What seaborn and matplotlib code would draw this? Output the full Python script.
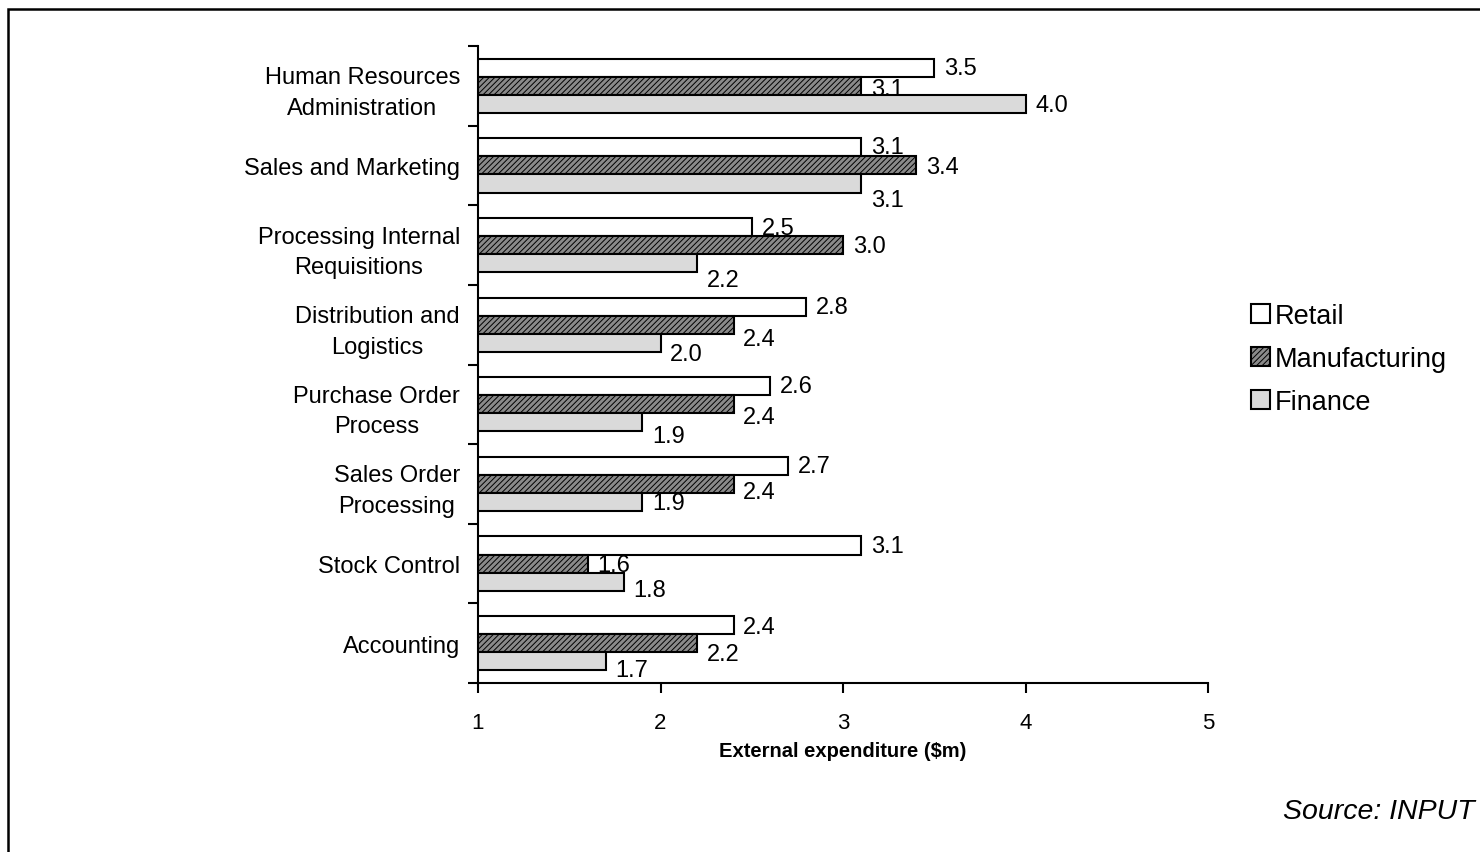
import pandas as pd
import matplotlib.pyplot as plt
import seaborn as sns
from matplotlib.patches import Patch, Rectangle

# chart data
categories = ['Human Resources\nAdministration', 'Sales and Marketing',
              'Processing Internal\nRequisitions', 'Distribution and\nLogistics',
              'Purchase Order\nProcess', 'Sales Order\nProcessing',
              'Stock Control', 'Accounting']
sectors = ['Retail', 'Manufacturing', 'Finance']
retail = [3.5, 3.1, 2.5, 2.8, 2.6, 2.7, 3.1, 2.4]
manufacturing = [3.1, 3.4, 3.0, 2.4, 2.4, 2.4, 1.6, 2.2]
finance = [4.0, 3.1, 2.2, 2.0, 1.9, 1.9, 1.8, 1.7]
x_ticks = [1, 2, 3, 4, 5]

# label drop below bar centre (points), mimics the original placement
label_drop = {
    'Retail': [0, 0, 1, 0, 0, 0, 0, 1],
    'Manufacturing': [2, 1, 1, 10, 9, 6, 1, 8],
    'Finance': [1, 12, 12, 8, 10, 1, 6, 6],
}

df = pd.DataFrame({
    'category': categories * 3,
    'sector': [s for s in sectors for _ in categories],
    'value': retail + manufacturing + finance,
})

plt.rcParams['font.family'] = ['Liberation Sans', 'DejaVu Sans']
plt.rcParams['hatch.linewidth'] = 0.7

styles = {
    'Retail': dict(facecolor='white', hatch=None),
    'Manufacturing': dict(facecolor='#8a8a8a', hatch='//////'),
    'Finance': dict(facecolor='#dadada', hatch=None),
}

fig = plt.figure(figsize=(14.8, 8.53), dpi=100)
ax = fig.add_axes([478 / 1480, 1 - 684 / 853, 730 / 1480, 637 / 853])

sns.barplot(data=df, x='value', y='category', hue='sector', orient='h',
            order=categories, hue_order=sectors, width=0.68, ax=ax,
            legend=False, saturation=1)

for i, (sector, cont) in enumerate(zip(sectors, ax.containers)):
    z = 2 + i
    for j, bar in enumerate(cont):
        bar.set_facecolor(styles[sector]['facecolor'])
        bar.set_edgecolor('black')
        bar.set_linewidth(1.5)
        if styles[sector]['hatch']:
            bar.set_hatch(styles[sector]['hatch'])
        bar.set_zorder(z)
        yc = bar.get_y() + bar.get_height() / 2
        val = bar.get_width()
        ax.annotate(f'{val:.1f}', xy=(val, yc), xytext=(7, -label_drop[sector][j]),
                    textcoords='offset points', va='center', ha='left',
                    fontsize=17, zorder=z + 0.5, annotation_clip=False)

ax.set_xlim(1, 5)
ax.set_ylim(len(categories) - 0.5, -0.5)
ax.set_xticks(x_ticks)
ax.set_xticklabels([str(t) for t in x_ticks], fontsize=16)
ax.set_yticks(range(len(categories)))
ax.set_yticklabels(categories, fontsize=17, multialignment='center', linespacing=1.5)
ax.set_yticks([k - 0.5 for k in range(len(categories) + 1)], minor=True)
ax.tick_params(axis='y', which='major', length=0, pad=13)
ax.tick_params(axis='y', which='minor', length=7, width=1.5, direction='out')
ax.tick_params(axis='x', which='major', length=7, width=1.5, direction='out', pad=14)
ax.set_xlabel('External expenditure ($m)', fontsize=14.5, fontweight='bold', labelpad=6)
ax.set_ylabel('')

sns.despine(ax=ax, top=True, right=True)
for side in ['left', 'bottom']:
    ax.spines[side].set_linewidth(1.5)
    ax.spines[side].set_zorder(10)
ax.set_facecolor('none')

handles = [Patch(facecolor=styles[s]['facecolor'], edgecolor='black',
                 hatch=styles[s]['hatch'], linewidth=1.5) for s in sectors]
fig.legend(handles, sectors, loc='center left', bbox_to_anchor=(1240 / 1480, 1 - 360 / 853),
           frameon=False, fontsize=19.5, handlelength=0.7, handleheight=0.7,
           handletextpad=0.2, labelspacing=0.62, borderaxespad=0)

fig.text(1475 / 1480, 1 - 812 / 853, 'Source: INPUT', ha='right', va='center',
         fontsize=20.5, style='italic')

# outer frame of the exhibit
fig.patches.append(Rectangle((8 / 1480, -0.05), 1.1, 1 - 10 / 853 + 0.05,
                             transform=fig.transFigure, fill=False,
                             edgecolor='black', linewidth=1.8))

fig.savefig('out.png', dpi=100)
